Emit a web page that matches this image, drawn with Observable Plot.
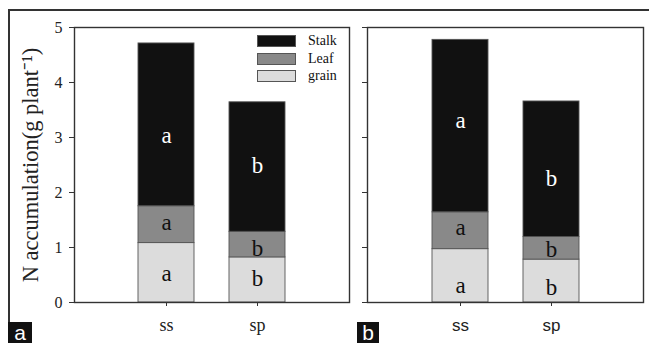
<!DOCTYPE html>
<html>
<head>
<meta charset="utf-8">
<script src="https://cdn.jsdelivr.net/npm/d3@7"></script>
<script src="https://cdn.jsdelivr.net/npm/@observablehq/plot@0.6"></script>
<style>
  html, body { margin: 0; padding: 0; background: #fff; }
  #wrap { position: relative; width: 649px; height: 343px; overflow: hidden; background: #fff; }
  #wrap svg { position: absolute; top: 0; }
  .hline { position: absolute; background: #333; }
  .tag { position: absolute; background: #111; color: #fff; font-family: "Liberation Sans", Arial, sans-serif; font-size: 21px; line-height: 21px; text-align: center; }
  .legend { position: absolute; font-family: "Liberation Serif", serif; font-size: 14px; color: #111; }
  .legend .row { position: absolute; left: 0; display: flex; align-items: center; white-space: nowrap; }
  .legend .sw { width: 37px; height: 10px; border: 1px solid #555; margin-right: 12px; }
</style>
</head>
<body>
<div id="wrap"></div>
<script>
// ---- data ----
const treatments = ["ss", "sp"];
const parts = ["grain", "Leaf", "Stalk"];           // stacking order, bottom to top
const partColors = ["#dcdcdc", "#898989", "#111111"];
const legendOrder = ["Stalk", "Leaf", "grain"];

// panel a values (g plant-1)
const aGrain = [1.08, 0.82];
const aLeaf  = [0.67, 0.465];
const aStalk = [2.96, 2.355];
// panel b values
const bGrain = [0.97, 0.78];
const bLeaf  = [0.67, 0.41];
const bStalk = [3.135, 2.465];

// significance letters [grain, Leaf, Stalk] per treatment
const aLetters = {ss: ["a", "a", "a"], sp: ["b", "b", "b"]};
const bLetters = {ss: ["a", "a", "a"], sp: ["b", "b", "b"]};
// heights at which letters are written
const aLetterY = {ss: [0.52, 1.46, 3.04], sp: [0.43, 0.98, 2.48]};
const bLetterY = {ss: [0.31, 1.36, 3.3], sp: [0.27, 0.96, 2.25]};

const yTicks = [0, 1, 2, 3, 4, 5];

(function () {
function rows(grain, leaf, stalk) {
  const out = [];
  treatments.forEach((t, i) => {
    out.push({t, part: "grain", v: grain[i]});
    out.push({t, part: "Leaf", v: leaf[i]});
    out.push({t, part: "Stalk", v: stalk[i]});
  });
  return out;
}
function letterRows(letters, ys) {
  const out = [];
  treatments.forEach(t => parts.forEach((p, j) => out.push({t, part: p, y: ys[t][j], s: letters[t][j]})));
  return out;
}

function panel(data, letters, opts) {
  return Plot.plot({
    width: opts.width, height: 343,
    marginLeft: opts.ml, marginRight: opts.mr, marginTop: 27, marginBottom: 41,
    style: {fontFamily: opts.font, fontSize: opts.fs + "px", color: "#222", background: "transparent", overflow: "visible"},
    x: {domain: treatments, paddingInner: 0.385, paddingOuter: 0.7},
    y: {domain: [0, 5]},
    color: {domain: parts, range: partColors},
    marks: [
      Plot.barY(data, {x: "t", y: "v", fill: "part", order: parts, stroke: "#555", strokeWidth: 0.9, inset: 0}),
      Plot.text(letters, {x: "t", y: "y", text: "s", fill: d => d.part === "Stalk" ? "#fff" : "#111",
        fontFamily: "Liberation Serif, serif", fontSize: 23}),
      Plot.frame({stroke: "#333", strokeWidth: 1.4}),
      Plot.axisY({ticks: yTicks, tickSize: 5, tickPadding: 7, stroke: "#333",
        tickFormat: opts.yLabels ? d => String(d) : () => "",
        fontSize: 16}),
      opts.yLabels ? Plot.axisY({ticks: [], label: "N accumulation(g plant\u207B\u00B9)",
        labelAnchor: "center", labelArrow: "none", labelOffset: 52, fontSize: 22.5, tickSize: 0}) : null,
      Plot.axisX({tickSize: 4, tickPadding: 12, stroke: "#333", label: null, fontSize: opts.xfs})
    ]
  });
}

const wrap = document.getElementById("wrap");

// outer frame lines
const topLine = document.createElement("div");
topLine.className = "hline"; topLine.style.cssText = "left:8px;top:9px;width:641px;height:1.6px;";
wrap.appendChild(topLine);
const leftLine = document.createElement("div");
leftLine.className = "hline"; leftLine.style.cssText = "left:8px;top:9px;width:1.6px;height:314px;";
wrap.appendChild(leftLine);

const pa = panel(rows(aGrain, aLeaf, aStalk), letterRows(aLetters, aLetterY),
  {width: 352, ml: 74, mr: 3, font: "Liberation Serif, serif", fs: 16, xfs: 18, yLabels: true});
pa.style.left = "0px";
wrap.appendChild(pa);

const pb = panel(rows(bGrain, bLeaf, bStalk), letterRows(bLetters, bLetterY),
  {width: 297, ml: 15, mr: 6, font: "Liberation Sans, Arial, sans-serif", fs: 16, xfs: 17, yLabels: false});
pb.style.left = "352px";
wrap.appendChild(pb);

// legend
const leg = document.createElement("div");
leg.className = "legend"; leg.style.cssText = "left:257px;top:33px;";
legendOrder.forEach((name, i) => {
  const r = document.createElement("div");
  r.className = "row"; r.style.top = (i * 17.5) + "px";
  const sw = document.createElement("div");
  sw.className = "sw"; sw.style.background = partColors[parts.indexOf(name)];
  r.appendChild(sw);
  const tx = document.createElement("span"); tx.textContent = name;
  r.appendChild(tx);
  leg.appendChild(r);
});
wrap.appendChild(leg);

// panel tags
[["a", 8, 24], ["b", 357, 22]].forEach(([t, x, w]) => {
  const d = document.createElement("div");
  d.className = "tag"; d.textContent = t;
  d.style.cssText = `left:${x}px;top:322px;width:${w}px;height:21px;`;
  wrap.appendChild(d);
});
})();
</script>
</body>
</html>
